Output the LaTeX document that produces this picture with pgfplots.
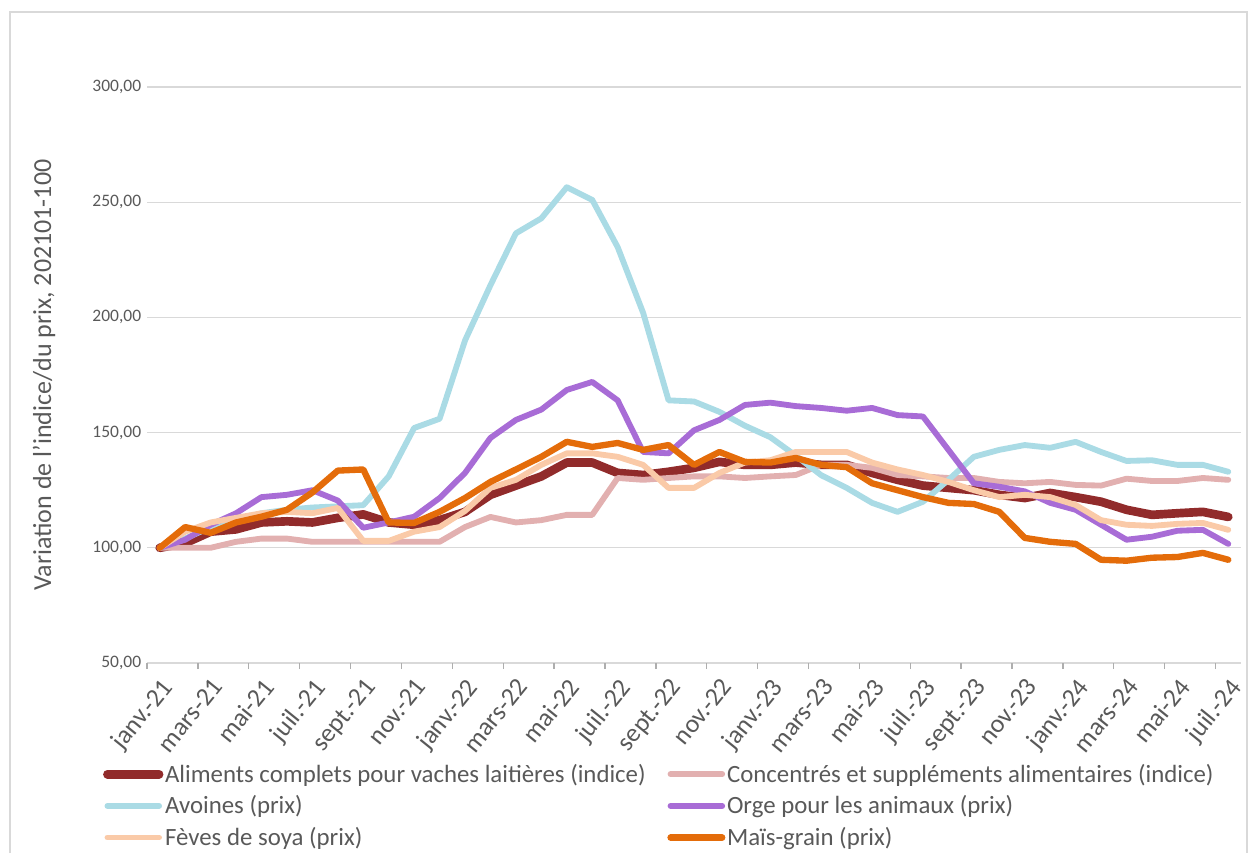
\documentclass[border=0pt]{standalone}
\usepackage{pgfplots}
\usepackage{pgfplotstable}
\pgfplotsset{compat=1.18}
\usepackage{fontspec}
\setmainfont{Carlito}
\definecolor{cAl}{RGB}{145,43,43}
\definecolor{cCo}{RGB}{226,176,176}
\definecolor{cAv}{RGB}{170,219,229}
\definecolor{cOr}{RGB}{168,108,214}
\definecolor{cSo}{RGB}{250,202,168}
\definecolor{cMa}{RGB}{228,108,10}
\definecolor{txt}{RGB}{89,89,89}
\definecolor{grd}{RGB}{217,217,217}
\pgfplotstableread{
x al co av or so ma
0 100 100 100 100 100 100
1 102 100 104 103.5 107 109
2 107 100 109 110 111 106.5
3 108 102.6 112 115 113 111
4 111 104 115 122 115 113.5
5 111.5 104 116.5 123 115.6 116.5
6 111 102.6 117.5 125 115 124
7 113 102.6 118 120.5 117.3 133.5
8 114.5 102.6 118.5 108.7 103 134
9 111 102.6 131 111 103 111
10 110 102.6 152 113.5 107 110.8
11 112 102.6 156 121.6 109 115.6
12 115.6 109 190 132.5 116 121.6
13 123 113.4 214 147.7 126 128.6
14 127 111 236.5 155.5 129.5 134
15 131 112 243 160 136 139.5
16 137 114.3 256.5 168.5 141 146
17 137 114.3 251 172 141 143.8
18 132.5 130.3 230.5 164 139.5 145.5
19 131.6 129.5 202 141.6 136 142.5
20 133 130.3 164 141 126 144.6
21 134.7 131 163.5 151 126 136
22 137.3 131 159 155.5 132.5 141.6
23 136 130.3 153 162 137 137.3
24 136 131 148 163 138 137
25 137 131.6 140 161.5 141.6 139
26 136 136 131.5 160.7 141.6 136
27 136 136 126 159.5 141.6 135
28 132.5 134.7 119.5 160.7 137 128
29 129.5 131.6 115.6 157.6 134 125
30 127 131 120 157 131.6 122
31 126 130.3 129.5 142.5 128.6 119.5
32 125 130.3 139.5 128 125 119
33 123 128.6 142.5 126.5 122 115.6
34 121.6 128 144.6 124.5 123 104.3
35 123.8 128.6 143.4 119.5 122 102.6
36 122 127.3 146 116.5 118.6 101.7
37 120 127 141.6 110 112 94.8
38 116.5 130 137.7 103.5 110 94.4
39 114.3 129 138 104.8 109.5 95.7
40 115 129 136 107.4 110.4 96
41 115.6 130.3 136 107.8 110.8 97.8
42 113.4 129.5 133 101.7 107.8 94.8
}\datatable
\begin{document}
\begin{tikzpicture}
\path[use as bounding box] (0pt,0pt) rectangle (751.8pt,511.8pt);
\draw[grd, line width=0.8pt] (6pt,0pt) -- (6pt,504.6pt) -- (748.2pt,504.6pt) -- (748.2pt,0pt);
\begin{axis}[
  at={(88.2pt,114pt)}, anchor=south west,
  scale only axis, width=656.4pt, height=345.6pt,
  xmin=-0.5, xmax=42.5, ymin=50, ymax=300,
  axis line style={draw=none},
  ytick={50,100,...,300},
  ymajorgrids=true,
  grid style={grd, line width=0.8pt},
  xtick={0,2,...,42},
  xticklabels={janv.-21,mars-21,mai-21,juil.-21,sept.-21,nov.-21,janv.-22,mars-22,mai-22,juil.-22,sept.-22,nov.-22,janv.-23,mars-23,mai-23,juil.-23,sept.-23,nov.-23,janv.-24,mars-24,mai-24,juil.-24},
  minor xtick={-0.5,1.5,...,41.5},
  major tick length=0pt,
  minor tick length=3.6pt,
  tick align=outside,
  xtick pos=bottom, ytick pos=left,
  minor tick style={grd!80!black, line width=0.8pt},
  yticklabel style={color=txt, font=\fontsize{10.5}{12}\selectfont},
  xticklabel style={color=txt, font=\fontsize{15.5}{17}\selectfont, rotate=51, anchor=north east, inner sep=0pt},
  xticklabel shift=8pt,
  /pgf/number format/.cd, fixed, fixed zerofill, precision=2, use comma, assume math mode=true,
  /pgfplots/.cd,
  ylabel={Variation de l’indice/du prix, 202101-100},
  ylabel style={color=txt, font=\fontsize{15.6}{18}\selectfont, at={(axis description cs:-0.094,0.5)}, anchor=center},
  legend columns=2,
  legend cell align=left,
  legend image code/.code={\draw[#1] (0pt,0pt) -- (31pt,0pt);},
  legend style={draw=none, fill=none, at={(axis description cs:-0.045,-0.163)}, anchor=north west,
    font=\fontsize{14.9}{17}\selectfont, text=txt, row sep=2.6pt,
    nodes={inner xsep=1pt},
    /tikz/every even column/.append style={column sep=12pt}},
  every axis plot/.append style={line join=round, line cap=round},
]
\addplot[cAl, line width=5.2pt] table[x=x,y=al] {\datatable};
\addlegendentry{Aliments complets pour vaches laitières (indice)}
\addplot[cCo, line width=3.5pt] table[x=x,y=co] {\datatable};
\addlegendentry{Concentrés et suppléments alimentaires (indice)}
\addplot[cAv, line width=3.5pt] table[x=x,y=av] {\datatable};
\addlegendentry{Avoines (prix)}
\addplot[cOr, line width=3.5pt] table[x=x,y=or] {\datatable};
\addlegendentry{Orge pour les animaux (prix)}
\addplot[cSo, line width=3.5pt] table[x=x,y=so] {\datatable};
\addlegendentry{Fèves de soya (prix)}
\addplot[cMa, line width=3.8pt] table[x=x,y=ma] {\datatable};
\addlegendentry{Maïs-grain (prix)}
\end{axis}
\end{tikzpicture}
\end{document}
